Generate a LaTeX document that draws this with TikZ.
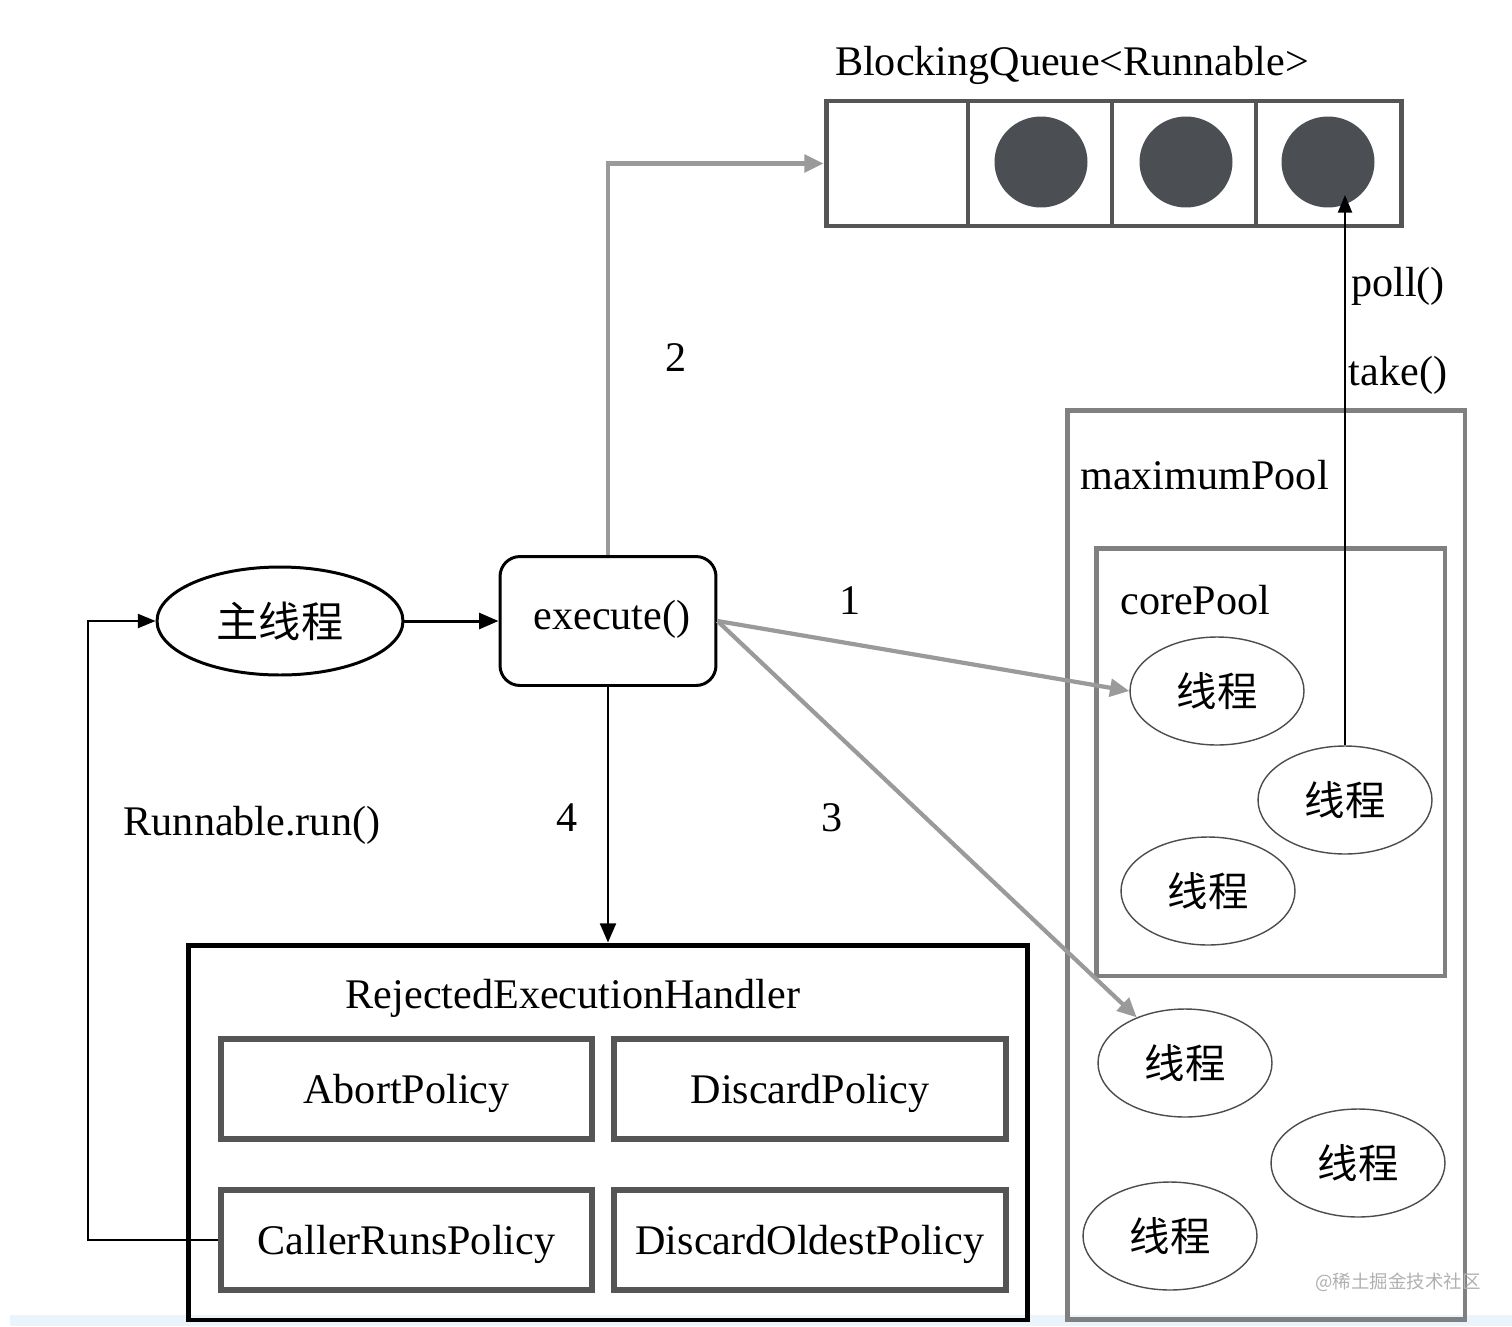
\documentclass[tikz,border=0pt]{standalone}
\usepackage{fontspec}
\setmainfont{Liberation Serif}
\newfontfamily\cjk{Noto Sans CJK SC}
\usetikzlibrary{arrows.meta,shapes.geometric}
\definecolor{qgray}{HTML}{555555}
\definecolor{pgray}{HTML}{808080}
\definecolor{agray}{HTML}{9A9A9A}
\definecolor{dotfill}{HTML}{4B4E53}
\definecolor{stripblue}{HTML}{EAF4FC}
\definecolor{wm}{HTML}{B0B0B0}
\newcommand{\lowtext}[1]{\raisebox{-0.09cm}[\height][\depth]{#1}}
\tikzset{
  lbl/.style={font=\fontsize{24}{28}\selectfont, inner sep=0pt, yshift=-0.06cm},
  thread/.style={ellipse, draw=black!70, line width=0.8pt, minimum width=3.48cm, minimum height=2.16cm, inner sep=0pt, font=\cjk\fontsize{23}{28}\selectfont},
  policy/.style={rectangle, draw=qgray, line width=3.2pt, minimum height=2cm, inner sep=0pt, font=\fontsize{24}{28}\selectfont},
  pool/.style={rectangle, draw=pgray, line width=2.8pt, inner sep=0pt},
  grayarrow/.style={draw=agray, line width=2.4pt, -{Triangle[length=11pt,width=10pt]}},
  blackarrow/.style={draw=black, line width=1.7pt, -{Triangle[length=11pt,width=9pt]}},
  thinarrow/.style={draw=black, line width=1pt, -{Triangle[length=10pt,width=8pt]}},
}
\begin{document}
\begin{tikzpicture}[x=0.02cm,y=-0.02cm]
\useasboundingbox (0,0) rectangle (1512,1326);
\fill[stripblue] (10,1315) rectangle (1512,1326);

% Queue
\node[lbl] (qtitle) at (1072,62) {BlockingQueue<Runnable>};
\node[rectangle, draw=qgray, line width=2.8pt, minimum width=11.52cm, minimum height=2.5cm, inner sep=0pt] (q) at (1114,163.5) {};
\draw[qgray, line width=2.8pt] (968,101) -- (968,226) (1112,101) -- (1112,226) (1256,101) -- (1256,226);
\node[ellipse, fill=dotfill, minimum width=1.86cm, minimum height=1.82cm, inner sep=0pt] (d1) at (1041,162) {};
\node[ellipse, fill=dotfill, minimum width=1.86cm, minimum height=1.82cm, inner sep=0pt] (d2) at (1186,162) {};
\node[ellipse, fill=dotfill, minimum width=1.86cm, minimum height=1.82cm, inner sep=0pt] (d3) at (1328,162) {};
\coordinate (qtip) at (1345,195);

% Main thread and execute
\node[ellipse, draw=black, line width=1.7pt, minimum width=4.92cm, minimum height=2.16cm, inner sep=0pt, font=\cjk\fontsize{24}{28}\selectfont] (main) at (280,621) {主线程};
\node[rectangle, rounded corners=0.4cm, draw=black, line width=1.7pt, minimum width=4.32cm, minimum height=2.58cm, inner sep=0pt] (exe) at (608,621) {};
\node[lbl] (exelbl) at (612,616) {execute()};

% Pools
\node[pool, minimum width=7.96cm, minimum height=18.2cm] (maxp) at (1266,865) {};
\node[lbl, anchor=west] (maxlbl) at (1080,472) {maximumPool};
\node[pool, minimum width=6.98cm, minimum height=8.56cm] (corep) at (1270.5,762) {};
\node[lbl, anchor=west] (corelbl) at (1120,597) {corePool};

\node[thread] (t1) at (1217,691) {线程};
\node[thread] (t2) at (1345,800) {线程};
\node[thread] (t3) at (1208,891) {线程};
\node[thread] (t4) at (1185,1063) {线程};
\node[thread] (t5) at (1358,1163) {线程};
\node[thread] (t6) at (1170,1236) {线程};

% Rejected handler
\node[rectangle, draw=black, line width=2.8pt, minimum width=16.8cm, minimum height=7.5cm, inner sep=0pt] (reh) at (608,1132.5) {};
\node[lbl] (rehlbl) at (573,995) {RejectedExecutionHandler};
\node[policy, minimum width=7.42cm] (abort) at (406.5,1089) {\lowtext{AbortPolicy}};
\node[policy, minimum width=7.84cm] (discard) at (810,1089) {\lowtext{DiscardPolicy}};
\node[policy, minimum width=7.42cm] (crp) at (406.5,1240) {\lowtext{CallerRunsPolicy}};
\node[policy, minimum width=7.84cm] (dop) at (810,1240) {\lowtext{DiscardOldestPolicy}};

% Labels
\node[lbl] (l2) at (676,355) {2};
\node[lbl] (l1) at (850,598) {1};
\node[lbl] (l3) at (832,815) {3};
\node[lbl] (l4) at (567,815) {4};
\node[lbl] (lrun) at (252,822) {Runnable.run()};
\node[lbl] (lpoll) at (1398,283) {poll()};
\node[lbl] (ltake) at (1398,372) {take()};
\node[font=\cjk\fontsize{10.5}{12}\selectfont, text=wm, inner sep=0pt] (wmark) at (1398,1282) {@稀土掘金技术社区};

% Connectors
\draw[grayarrow] (exe.north) |- (q.west);
\draw[blackarrow] (main.east) -- (exe.west);
\draw[grayarrow] (exe.east) -- (t1.west);
\draw[grayarrow] (exe.east) -- (t4);
\draw[blackarrow] (exe.south) -- (reh.north);
\coordinate (fb) at (88,1240);
\draw[thinarrow] (crp.west) -- (fb) |- (main.west);
\draw[thinarrow] (t2.north) -- (qtip);
\end{tikzpicture}
\end{document}
